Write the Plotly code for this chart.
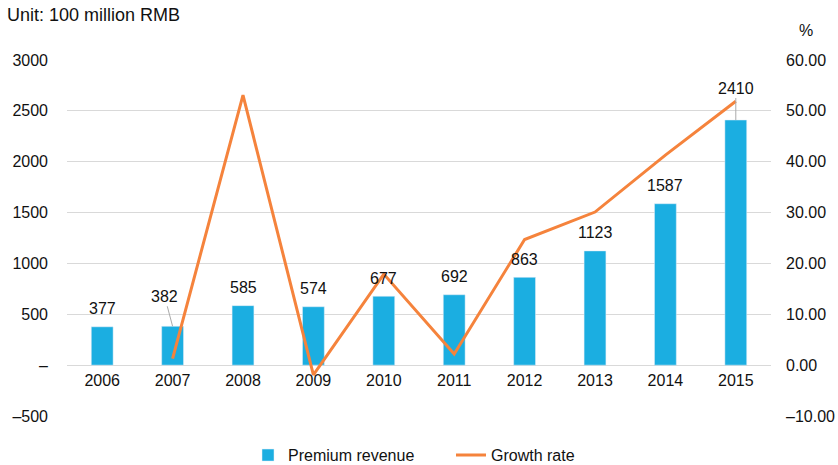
import plotly.graph_objects as go

years = ["2006", "2007", "2008", "2009", "2010", "2011", "2012", "2013", "2014", "2015"]
premium = [377, 382, 585, 574, 677, 692, 863, 1123, 1587, 2410]
growth_years = ["2007", "2008", "2009", "2010", "2011", "2012", "2013", "2014", "2015"]
growth = [1.3, 53.1, -1.9, 17.9, 2.2, 24.7, 30.1, 41.3, 51.9]

left_ticks = [-500, 0, 500, 1000, 1500, 2000, 2500, 3000]
left_text = ["–500", "–", "500", "1000", "1500", "2000", "2500", "3000"]
right_ticks = [-10, 0, 10, 20, 30, 40, 50, 60]
right_text = ["–10.00", "0.00", "10.00", "20.00", "30.00", "40.00", "50.00", "60.00"]

BAR = "#1BAEE1"
LINE = "#F5833C"
FONT = "Liberation Sans, Arial, sans-serif"
FS = 16

fig = go.Figure()
fig.add_trace(go.Bar(x=years, y=premium, name="Premium revenue", marker_color=BAR,
                     width=0.31, yaxis="y"))
fig.add_trace(go.Scatter(x=growth_years, y=growth, name="Growth rate", mode="lines",
                         line=dict(color=LINE, width=3), yaxis="y2"))

# data labels (category index positions)
for i, (yr, v) in enumerate(zip(years, premium)):
    if yr == "2007":
        fig.add_annotation(x=i, y=v, xref="x", yref="y", text=str(v), showarrow=True,
                           arrowhead=0, arrowwidth=1, arrowcolor="#AAAAAA",
                           ax=-8, ay=-30, font=dict(size=FS, color="#111"))
    elif yr == "2015":
        fig.add_annotation(x=i, y=v, xref="x", yref="y", text=str(v), showarrow=True,
                           arrowhead=0, arrowwidth=1, arrowcolor="#AAAAAA",
                           ax=0, ay=-32, font=dict(size=FS, color="#111"))
    else:
        fig.add_annotation(x=i, y=v, xref="x", yref="y", text=str(v), showarrow=False,
                           yshift=18, font=dict(size=FS, color="#111"))

fig.add_annotation(x=0, y=1, xref="paper", yref="paper", xanchor="left", yanchor="middle",
                   text="Unit: 100 million RMB", showarrow=False, xshift=-62, yshift=45,
                   font=dict(size=18, color="#111"))
fig.add_annotation(x=1, y=1, xref="paper", yref="paper", xanchor="center", yanchor="middle",
                   text="%", showarrow=False, xshift=35, yshift=30,
                   font=dict(size=FS, color="#111"))

fig.update_layout(
    width=838, height=465,
    margin=dict(l=67, r=67, t=60, b=49, autoexpand=False),
    paper_bgcolor="white", plot_bgcolor="white",
    font=dict(family=FONT, size=FS, color="#111"),
    showlegend=True,
    legend=dict(orientation="h", x=(248 - 67) / 704, xanchor="left", y=-0.11, yanchor="middle",
                font=dict(size=FS), traceorder="normal",
                entrywidthmode="pixels", entrywidth=158),
    xaxis=dict(type="category", anchor="free", position=1/7, showgrid=False, showline=False,
               ticks="", tickfont=dict(size=FS), ticklabelstandoff=4,
               range=[-0.5, 9.5]),
    yaxis=dict(range=[-500, 3000], tickvals=left_ticks, ticktext=left_text,
               showgrid=True, gridcolor="#D9D9D9", gridwidth=1, zeroline=True,
               zerolinecolor="#D9D9D9", zerolinewidth=1, showline=False,
               ticklabelstandoff=18, tickfont=dict(size=FS)),
    yaxis2=dict(range=[-10, 60], tickvals=right_ticks, ticktext=right_text,
                overlaying="y", side="right", showgrid=False, zeroline=False,
                showline=False, ticklabelstandoff=14, tickfont=dict(size=FS)),
)

fig.write_html("out.html")
